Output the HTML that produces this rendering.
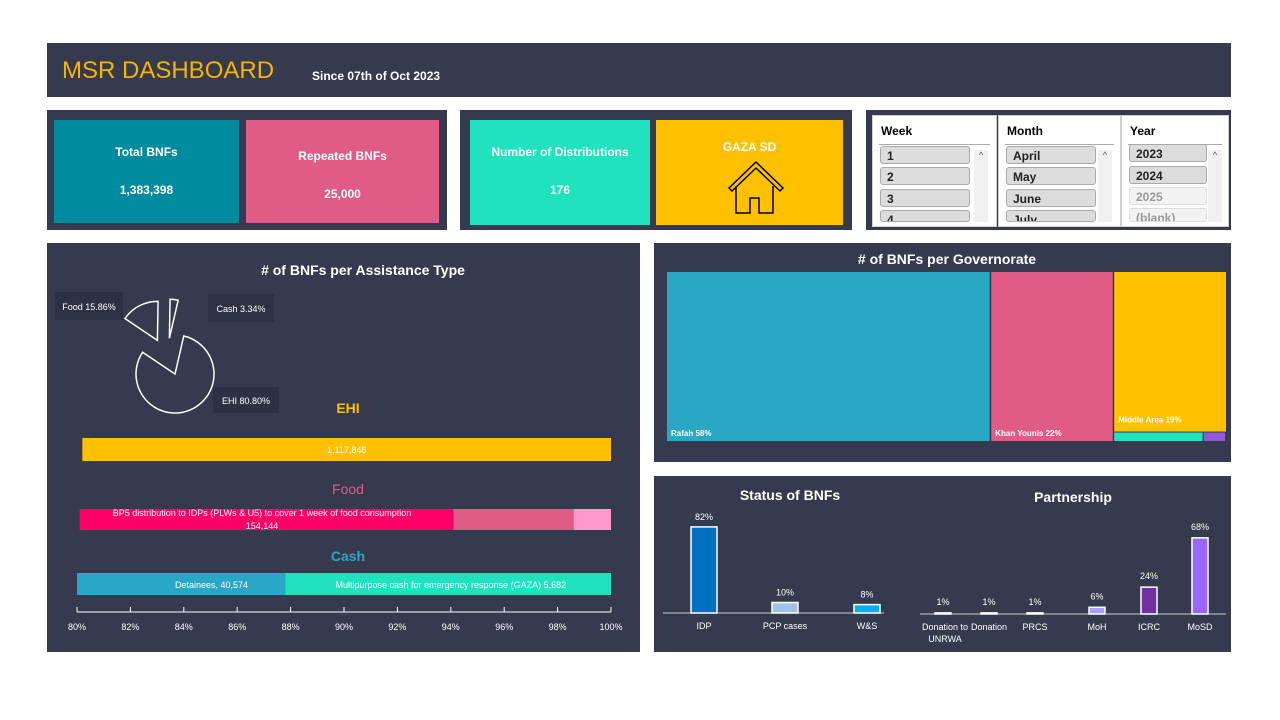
<!DOCTYPE html>
<html><head><meta charset="utf-8"><style>
body{margin:0;width:1280px;height:720px;background:#fff;position:relative;overflow:hidden;font-family:"Liberation Sans",sans-serif;}
.p{position:absolute;background:#353a4e;}
.abs{position:absolute;}
.card{position:absolute;color:#fff;font-weight:bold;font-size:12px;text-align:center;}
.sl{position:absolute;background:#fff;border:1px solid #d0d0d0;}
.sl .hd{position:absolute;left:8px;top:8px;font-size:12px;font-weight:bold;color:#000;}
.sl .ln{position:absolute;left:6px;right:6px;top:28px;height:1px;background:#aaa;}
.it{position:absolute;left:7px;width:90px;height:18px;background:#dcdcdc;border:1px solid #aaa;border-radius:3px;font-size:12px;font-weight:bold;color:#222;line-height:18px;padding-left:6px;box-sizing:border-box;}
.sb{position:absolute;right:8px;top:34px;width:14px;height:80px;background:#f0f0f0;font-size:9px;color:#555;text-align:center;}
svg text{font-family:"Liberation Sans",sans-serif;}
</style></head><body>
<div class="p" style="left:47px;top:43px;width:1184px;height:54px;">
 <div class="abs" style="left:15px;top:14px;font-size:24px;color:#f5b400;">MSR DASHBOARD</div>
 <div class="abs" style="left:265px;top:26px;font-size:12px;font-weight:bold;color:#fff;">Since 07th of Oct 2023</div>
</div>

<div class="p" style="left:47px;top:110px;width:400px;height:120px;"></div>
<div class="card" style="left:54px;top:120px;width:185px;height:103px;background:#008b9f;"><div style="margin-top:25px">Total BNFs</div><div style="margin-top:24px">1,383,398</div></div>
<div class="card" style="left:246px;top:120px;width:193px;height:103px;background:#e05c86;"><div style="margin-top:29px">Repeated BNFs</div><div style="margin-top:24px">25,000</div></div>

<div class="p" style="left:460px;top:110px;width:392px;height:120px;"></div>
<div class="card" style="left:470px;top:120px;width:180px;height:105px;background:#20e2be;"><div style="margin-top:25px">Number of Distributions</div><div style="margin-top:24px">176</div></div>
<div class="card" style="left:656px;top:120px;width:187px;height:105px;background:#ffc000;"><div style="margin-top:20px">GAZA SD</div>
 <svg width="60" height="60" style="position:absolute;left:70px;top:38px"><path d="M3,30 L30,4 L57,30 L54,33 L30,10 L6,33 Z" fill="none" stroke="#000" stroke-width="1.5"/><path d="M10,28 V55 H24 V40 H33 V55 H47 V28" fill="none" stroke="#000" stroke-width="1.5"/></svg></div>

<div class="p" style="left:866px;top:110px;width:365px;height:120px;"></div>
<div class="sl" style="left:872px;top:115px;width:123px;height:110px;"><div class="hd">Week</div><div class="ln"></div>
 <div class="it" style="top:30px">1</div><div class="it" style="top:51px">2</div><div class="it" style="top:73px">3</div><div class="it" style="top:94px;height:12px;overflow:hidden">4</div><div class="sb" style="height:72px">^</div></div>
<div class="sl" style="left:998px;top:115px;width:121px;height:110px;"><div class="hd">Month</div><div class="ln"></div>
 <div class="it" style="top:30px">April</div><div class="it" style="top:51px">May</div><div class="it" style="top:73px">June</div><div class="it" style="top:94px;height:12px;overflow:hidden">July</div><div class="sb" style="height:72px">^</div></div>
<div class="sl" style="left:1121px;top:115px;width:106px;height:110px;"><div class="hd">Year</div><div class="ln"></div>
 <div class="it" style="top:28px;width:78px">2023</div><div class="it" style="top:50px;width:78px">2024</div><div class="it" style="top:71px;width:78px;background:#f2f2f2;color:#999;border-color:#ddd">2025</div><div class="it" style="top:92px;width:78px;height:14px;overflow:hidden;background:#f2f2f2;color:#999;border-color:#ddd">(blank)</div><div class="sb" style="height:72px;right:6px">^</div></div>

<div class="p" style="left:47px;top:243px;width:593px;height:409px;"></div>
<div class="p" style="left:654px;top:243px;width:577px;height:219px;"></div>
<div class="p" style="left:654px;top:476px;width:577px;height:176px;"></div>

<svg id="chart" width="1280" height="720" style="position:absolute;left:0;top:0"></svg>

<script>
const pieLabels=["EHI","Food","Cash"];
const pieValues=[80.80,15.86,3.34];
const ehiValues=[1117848];
const foodSegStart=[80.1,94.1,98.6];
const foodSegEnd=[94.1,98.6,100];
const cashSegStart=[80,87.8];
const cashSegEnd=[87.8,100];
const ehiStart=[80.2];
const axisTicks=[80,82,84,86,88,90,92,94,96,98,100];
const govLabels=["Rafah 58%","Khan Younis 22%","Middle Area 19%","",""];
const govValues=[58,22,19,0.8,0.2];
const statusCats=["IDP","PCP cases","W&S"];
const statusValues=[82,10,8];
const partnerCats=["Donation to|UNRWA","Donation","PRCS","MoH","ICRC","MoSD"];
const partnerValues=[1,1,1,6,24,68];

const svg=document.getElementById('chart');
const NS='http://www.w3.org/2000/svg';
function mk(tag,attrs,name,txt){const e=document.createElementNS(NS,tag);for(const k in attrs)e.setAttribute(k,attrs[k]);


if(txt!==undefined)e.textContent=txt;svg.appendChild(e);return e;}
function T(x,y,s,name,size,color,anchor,weight){return mk('text',{x:x,y:y,'font-size':size||10,fill:color||'#fff','text-anchor':anchor||'middle','font-weight':weight||'normal'},name,s);}

T(363,275,'# of BNFs per Assistance Type','assistance-title',14,'#fff','middle','bold');
T(947,264,'# of BNFs per Governorate','governorate-title',14,'#fff','middle','bold');
T(790,500,'Status of BNFs','status-title',14,'#fff','middle','bold');
T(1073,502,'Partnership','partnership-title',14,'#fff','middle','bold');

const cx=175,cy=374,r=39,explode=[0,38,36];
const tot=pieValues.reduce((a,b)=>a+b,0);
let ang=13;
pieValues.forEach((v,i)=>{const a0=ang,a1=ang+v/tot*360;ang=a1;const mid=(a0+a1)/2*Math.PI/180;
 let ox=cx+explode[i]*Math.sin(mid),oy=cy-explode[i]*Math.cos(mid);
 if(i==2){ox-=10;}
 const p=a=>[ox+r*Math.sin(a*Math.PI/180),oy-r*Math.cos(a*Math.PI/180)];
 const s=p(a0),e=p(a1);const large=(a1-a0)>180?1:0;
 mk('path',{d:`M${ox},${oy} L${s[0]},${s[1]} A${r},${r} 0 ${large} 1 ${e[0]},${e[1]} Z`,fill:'none',stroke:'#fff','stroke-width':1.5},'pie-slice-'+pieLabels[i].toLowerCase());
});
const pl=[[55,292,68,28,'Food  15.86%'],[208,294,66,28,'Cash  3.34%'],[213,387,66,26,'EHI  80.80%']];
pl.forEach((b,i)=>{mk('rect',{x:b[0],y:b[1],width:b[2],height:b[3],fill:'#2c3144'},'pie-label-box-'+i);T(b[0]+b[2]/2,b[1]+b[3]/2+4,b[4],'pie-label-'+i,9);});

const xs=v=>77+(v-80)/20*534;
T(348,413,'EHI','ehi-label',14,'#ffc000','middle','bold');
mk('rect',{x:xs(ehiStart[0]),y:438,width:xs(100)-xs(ehiStart[0]),height:23,fill:'#ffc000'},'ehi-bar');
T((xs(ehiStart[0])+xs(100))/2,453,ehiValues[0].toLocaleString('en-US'),'ehi-value',9);
T(348,494,'Food','food-label',14,'#e05c86');
const fc=['#ff0066','#e05c86','#ff99cc'];
foodSegStart.forEach((s,i)=>mk('rect',{x:xs(s),y:509,width:xs(foodSegEnd[i])-xs(s),height:21,fill:fc[i]},'food-bar-seg-'+i));
T(262,516,'BP5 distribution to IDPs (PLWs & U5)  to cover 1 week of food consumption','food-seg-label',9);
T(262,529,'154,144','food-seg-value',9);
T(348,561,'Cash','cash-label',14,'#2aa7c4','middle','bold');
const cc=['#2aa7c4','#20e2be'];
cashSegStart.forEach((s,i)=>mk('rect',{x:xs(s),y:573,width:xs(cashSegEnd[i])-xs(s),height:22,fill:cc[i]},'cash-bar-seg-'+i));
T(248,588,'Detainees,  40,574','cash-seg-label-0',9,'#fff','end');
T(xs(94),588,'Multipurpose cash for emergency response (GAZA) 5,682','cash-seg-label-1',9);
mk('line',{x1:xs(80),y1:612,x2:xs(100),y2:612,stroke:'#fff','stroke-width':1},'x-axis-line');
axisTicks.forEach(t=>{mk('line',{x1:xs(t),y1:607,x2:xs(t),y2:612,stroke:'#fff'},'x-tick-'+t);T(xs(t),630,t+'%','x-tick-label-'+t,9);});

const TX=667,TY=272,TW=559,TH=169;const gcol=['#2aa7c4','#e05c86','#ffc000','#20e2be','#8e5ad8'];
const gt=govValues.reduce((a,b)=>a+b,0);let gx=TX;
for(let i=0;i<2;i++){const w=govValues[i]/gt*TW;mk('rect',{x:gx,y:TY,width:w-1.5,height:TH,fill:gcol[i]},'treemap-'+i);T(gx+4,TY+TH-5,govLabels[i],'treemap-label-'+i,8,'#fff','start','bold');gx+=w;}
const rest=govValues.slice(2).reduce((a,b)=>a+b,0);const rw=TX+TW-gx;
const mh=govValues[2]/rest*TH;
mk('rect',{x:gx,y:TY,width:rw,height:mh-1,fill:gcol[2]},'treemap-2');T(gx+4,TY+mh-10,govLabels[2],'treemap-label-2',8,'#fff','start','bold');
const sr=govValues[3]+govValues[4];let sx=gx;
[3,4].forEach(i=>{const w=govValues[i]/sr*rw;mk('rect',{x:sx,y:TY+mh,width:w-1,height:TH-mh,fill:gcol[i]},'treemap-'+i);sx+=w;});

const sBase=613,sK=1.05,sx0=[704,785,867],scol=['#0070c0','#9dc3e6','#00b0f0'];
mk('line',{x1:663,y1:sBase,x2:884,y2:sBase,stroke:'#ccc'},'status-baseline');
statusValues.forEach((v,i)=>{const h=v*sK;mk('rect',{x:sx0[i]-13,y:sBase-h,width:26,height:h,fill:scol[i],stroke:'#fff','stroke-width':1.5},'status-bar-'+i);
T(sx0[i],sBase-h-7,v+'%','status-value-'+i,9);T(sx0[i],629,statusCats[i],'status-cat-'+i,9);});

const pBase=614,pK=1.12,px0=[943,989,1035,1097,1149,1200],pcol=['#d9d9ff','#d9d9ff','#d9d9ff','#a9a0ff','#7030a0','#9966ff'];
mk('line',{x1:920,y1:pBase,x2:1226,y2:pBase,stroke:'#ccc'},'partner-baseline');
partnerValues.forEach((v,i)=>{const h=v*pK;mk('rect',{x:px0[i]-8,y:pBase-h,width:16,height:h,fill:pcol[i],stroke:'#fff','stroke-width':1.5},'partner-bar-'+i);
T(px0[i],pBase-h-8,v+'%','partner-value-'+i,9);const parts=partnerCats[i].split('|');parts.forEach((s,j)=>T(px0[i]+(i==0?2:0),630+j*12,s,'partner-cat-'+i+'-'+j,9));});
</script>
</body></html>
